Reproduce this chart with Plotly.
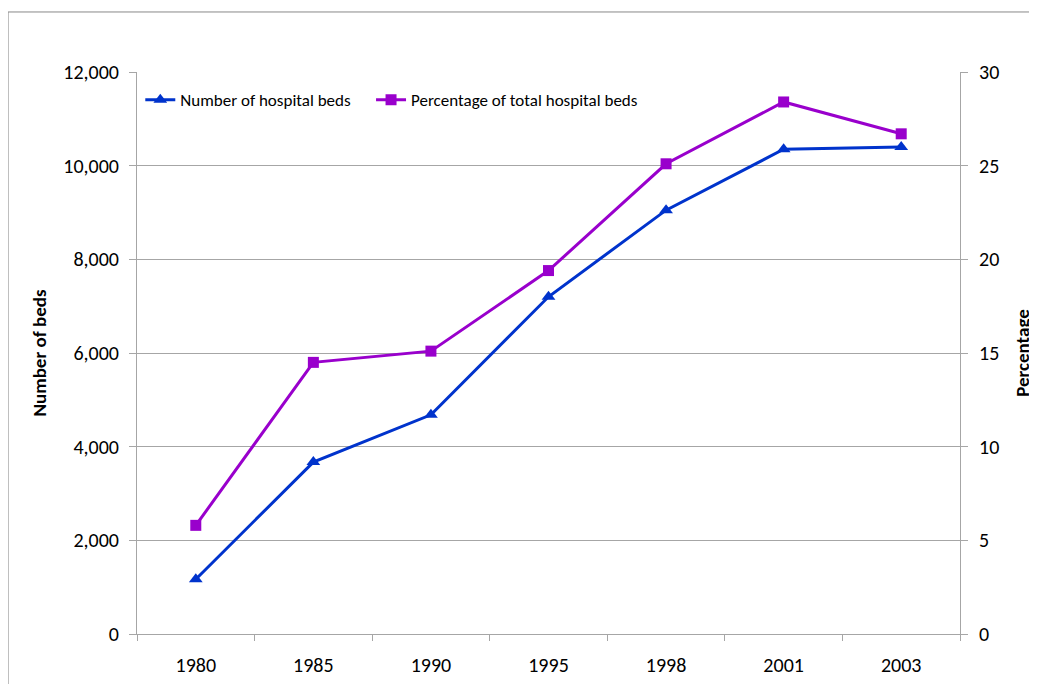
import plotly.graph_objects as go

years = ["1980", "1985", "1990", "1995", "1998", "2001", "2003"]
beds = [1170, 3670, 4680, 7200, 9050, 10350, 10400]
pct = [5.8, 14.5, 15.1, 19.4, 25.1, 28.4, 26.7]
names = ["Number of hospital beds", "Percentage of total hospital beds"]

FONT = "Carlito, 'Liberation Sans Narrow', 'Liberation Sans', sans-serif"
BLUE = "#0033CC"
PURPLE = "#9900CC"
GRID = "#A6A6A6"
PAD = "\u00a0" * 4

fig = go.Figure()
fig.add_trace(go.Scatter(x=years, y=beds, name=names[0] + PAD,
                         mode="lines+markers",
                         line=dict(color=BLUE, width=3),
                         marker=dict(symbol="triangle-up", size=12, color=BLUE)))
fig.add_trace(go.Scatter(x=years, y=pct, name=names[1],
                         mode="lines+markers", yaxis="y2",
                         line=dict(color=PURPLE, width=3),
                         marker=dict(symbol="square", size=11, color=PURPLE)))

# page body has an 8px margin, so the figure is sized/offset to compensate
fig.update_layout(
    width=1029, height=676,
    margin=dict(l=129, r=77, t=64, b=50),
    paper_bgcolor="white", plot_bgcolor="white",
    font=dict(family=FONT, size=20, color="black"),
    showlegend=True,
    legend=dict(orientation="h", x=0.004, y=0.95, xanchor="left", yanchor="middle",
                bgcolor="rgba(0,0,0,0)", font=dict(size=17), itemwidth=30,
                tracegroupgap=0),
    xaxis=dict(type="category", range=[-0.5, len(years) - 0.5],
               showline=True, linecolor=GRID, linewidth=1,
               ticks="outside", tickson="boundaries", ticklen=6, tickcolor=GRID,
               showgrid=False, tickfont=dict(size=20), ticklabelstandoff=13,
               automargin=False),
    yaxis=dict(range=[0, 12000], dtick=2000, tickformat=",", showline=True,
               linecolor=GRID, linewidth=1, ticks="outside", ticklen=7, tickcolor=GRID,
               showgrid=True, gridcolor=GRID, gridwidth=1, zeroline=False,
               tickfont=dict(size=20), ticklabelstandoff=6, automargin=False,
               title=dict(text="<b>Number of beds</b>", font=dict(size=19), standoff=11)),
    yaxis2=dict(range=[0, 30], dtick=5, overlaying="y", side="right", showline=True,
                linecolor=GRID, linewidth=1, ticks="outside", ticklen=7, tickcolor=GRID,
                showgrid=False, zeroline=False, tickfont=dict(size=20), ticklabelstandoff=7,
                automargin=False,
                title=dict(text="<b>Percentage</b>", font=dict(size=19), standoff=17)),
)

# outer chart border (top and left edges visible)
fig.add_shape(type="line", xref="paper", yref="paper", x0=-0.1567, x1=1.2, y0=1.1068, y1=1.1068,
              line=dict(color="#888888", width=1))
fig.add_shape(type="line", xref="paper", yref="paper", x0=-0.1567, x1=-0.1567, y0=1.1068, y1=-0.2,
              line=dict(color="#888888", width=1))

fig.write_html("out.html")
